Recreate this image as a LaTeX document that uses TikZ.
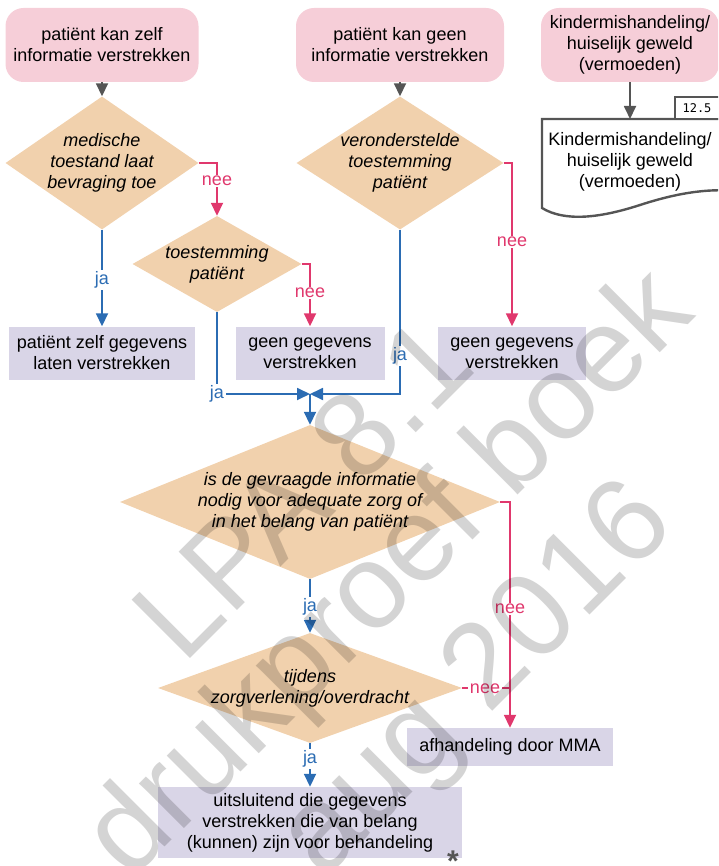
\documentclass[tikz,border=0pt]{standalone}
\usepackage{fontspec}
\setmainfont{Liberation Sans}
\newfontfamily\tabfont{DejaVu Sans Mono}
\usetikzlibrary{arrows.meta,shapes.geometric}
\definecolor{pinkbox}{HTML}{F6CED8}
\definecolor{tanfill}{HTML}{F1D1AD}
\definecolor{lavfill}{HTML}{D9D5E7}
\definecolor{jablue}{HTML}{2B6CB3}
\definecolor{neepink}{HTML}{E0386D}
\definecolor{dgray}{HTML}{555555}
\begin{document}
\begin{tikzpicture}[x=1pt,y=-1pt,
  every node/.style={font=\fontsize{18}{21}\selectfont, align=center, inner sep=0pt},
  startbox/.style={fill=pinkbox, rounded corners=18pt, minimum height=74pt},
  actbox/.style={fill=lavfill, minimum height=53pt},
  dia/.style={shape=diamond, fill=tanfill, inner sep=0pt},
  dtext/.style={font=\fontsize{18}{21}\selectfont\itshape},
  tip/.style={-{Triangle[length=13pt,width=12pt]}},
  graywire/.style={draw=dgray, line width=1.8pt, tip},
  jawire/.style={draw=jablue, line width=1.8pt},
  neewire/.style={draw=neepink, line width=1.8pt},
  jalbl/.style={fill=white, text=jablue, inner sep=1.5pt},
  neelbl/.style={fill=white, text=neepink, inner sep=1.5pt},
  wmark/.style={font=\fontsize{120}{140}\selectfont, text=black, text opacity=0.17, rotate=45}
]
\useasboundingbox (0,0) rectangle (718,866);
\clip (0,0) rectangle (718,866);

% start boxes
\node[startbox, minimum width=193pt] (s1) at (102,45) {patiënt kan zelf\\informatie verstrekken};
\node[startbox, minimum width=208pt] (s2) at (400,45) {patiënt kan geen\\informatie verstrekken};
\node[startbox, minimum width=178pt] (s3) at (630,45) {kindermishandeling/\\huiselijk geweld\\(vermoeden)};

% diamonds
\node[dia, minimum width=193pt, minimum height=133pt] (d1) at (102,163) {};
\node[dtext] (d1t) at (d1) {medische\\toestand laat\\bevraging toe};
\node[dia, minimum width=169pt, minimum height=96pt] (d2) at (217,264) {};
\node[dtext] (d2t) at (d2) {toestemming\\patiënt};
\node[dia, minimum width=207pt, minimum height=133pt] (d3) at (400,163) {};
\node[dtext] (d3t) at (d3) {veronderstelde\\toestemming\\patiënt};
\node[dia, minimum width=380pt, minimum height=154pt] (d4) at (310,502) {};
\node[dtext] (d4t) at (d4) {is de gevraagde informatie\\nodig voor adequate zorg of\\in het belang van patiënt};
\node[dia, minimum width=304pt, minimum height=110pt] (d5) at (310,688) {};
\node[dtext] (d5t) at (d5) {tijdens\\zorgverlening/overdracht};

% action boxes
\node[actbox, minimum width=186pt] (b1) at (102,353) {patiënt zelf gegevens\\laten verstrekken};
\node[actbox, minimum width=149pt] (b2) at (310,353) {geen gegevens\\verstrekken};
\node[actbox, minimum width=148pt] (b3) at (512,353) {geen gegevens\\verstrekken};
\node[actbox, minimum width=206pt, minimum height=38pt] (b4) at (510,747) {afhandeling door MMA};
\node[actbox, minimum width=304pt, minimum height=71pt] (b5) at (310,822.5) {uitsluitend die gegevens\\verstrekken die van belang\\(kunnen) zijn voor behandeling};

% document shape
\draw[dgray, line width=2.4pt, fill=white, line join=miter]
  (542,208) -- (542,119) -- (760,119) -- (760,195)
  .. controls (720,185) and (680,192) .. (640,205)
  .. controls (600,218) and (565,222) .. (542,208) -- cycle;
\node (doc) at (630,162) {Kindermishandeling/\\huiselijk geweld\\(vermoeden)};
\coordinate (doctop) at (630,119);
\draw[dgray, line width=2pt, fill=white] (675,97) rectangle (760,119);
\node[font=\tabfont\fontsize{12}{12}\selectfont] (tab) at (697,108.5) {12.5};

% coordinates
\coordinate (merge) at (310,394);
\coordinate (join) at (510,688);

% gray arrows
\draw[graywire] (s1.south) -- (d1.north);
\draw[graywire] (s2.south) -- (d3.north);
\draw[graywire] (s3.south) -- (doctop);

% connectors
\draw[neewire, tip] (d1.east) -| (d2.north);
\draw[jawire, tip] (d1.south) -- (b1.north);
\draw[neewire, tip] (d2.east) -| (b2.north);
\draw[jawire, tip] (d2.south) |- (merge);
\draw[jawire, tip] (d3.south) |- (merge);
\draw[neewire, tip] (d3.east) -| (b3.north);
\draw[jawire, tip] (merge) -- (d4.north);
\draw[neewire, tip] (d4.east) -| (b4.north);
\draw[jawire, tip] (d4.south) -- (d5.north);
\draw[neewire] (d5.east) -- (join);
\draw[jawire, tip] (d5.south) -- (b5.north);

% labels
\node[neelbl] (l1) at (217,181) {nee};
\node[jalbl] (l2) at (102,280) {ja};
\node[neelbl] (l3) at (310,293) {nee};
\node[jalbl] (l4) at (217,394) {ja};
\node[jalbl] (l5) at (400,356) {ja};
\node[neelbl] (l6) at (512,242) {nee};
\node[neelbl] (l7) at (510,609) {nee};
\node[jalbl] (l8) at (310,607) {ja};
\node[neelbl] (l9) at (485,689) {nee};
\node[jalbl] (l10) at (310,759) {ja};

% asterisk
\node[font=\fontsize{30}{30}\selectfont\bfseries, text=dgray] (ast) at (453,861) {*};

% watermark
\node[wmark] (wm1) at (302,488) {LPA 8.1};
\node[wmark] (wm2) at (392,577) {drukproef boek};
\node[wmark] (wm3) at (480,683) {aug 2016};
\end{tikzpicture}
\end{document}
